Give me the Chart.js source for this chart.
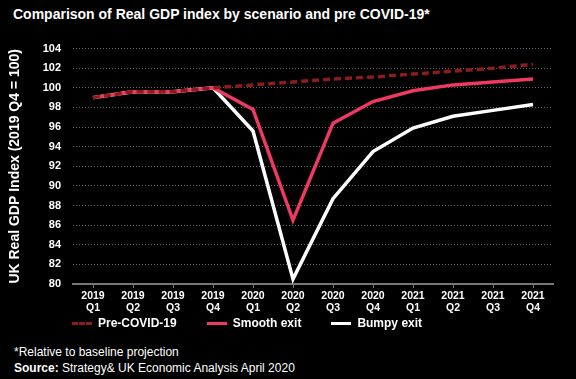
<!DOCTYPE html>
<html lang="en">
<head>
    <meta charset="UTF-8">
    <title>Comparison of Real GDP index by scenario and pre COVID-19</title>
    <script src="https://cdn.jsdelivr.net/npm/chart.js"></script>
    <style>
        body {
            margin: 0;
            background: #000;
            font-family: 'Liberation Sans', Arial, sans-serif;
            color: #fff;
        }
        .wrap {
            position: relative;
            width: 576px;
            height: 379px;
            overflow: hidden;
        }
        .title {
            position: absolute;
            left: 13px;
            top: 6px;
            font-size: 14px;
            font-weight: bold;
        }
        .chart-box {
            position: absolute;
            left: 0;
            top: 30px;
            width: 576px;
            height: 290px;
        }
        .legend {
            position: absolute;
            top: 316px;
            left: 72px;
            font-size: 12px;
            font-weight: bold;
            display: flex;
        }
        .legend .item {
            display: flex;
            align-items: center;
            margin-right: 30px;
        }
        .legend .mark {
            width: 20px;
            height: 0;
            margin-right: 6px;
        }
        .notes {
            position: absolute;
            left: 14px;
            top: 344px;
            font-size: 12px;
            line-height: 16px;
        }
    </style>
</head>
<body>
<div class="wrap">
    <div class="title">Comparison of Real GDP index by scenario and pre COVID-19*</div>
    <div class="chart-box"><canvas id="gdpChart"></canvas></div>
    <div class="legend" id="legend"></div>
    <div class="notes">
        <div>*Relative to baseline projection</div>
        <div><b>Source:</b> Strategy&amp; UK Economic Analysis April 2020</div>
    </div>
</div>
<script>
    const quarters = [
        ['2019', 'Q1'], ['2019', 'Q2'], ['2019', 'Q3'], ['2019', 'Q4'],
        ['2020', 'Q1'], ['2020', 'Q2'], ['2020', 'Q3'], ['2020', 'Q4'],
        ['2021', 'Q1'], ['2021', 'Q2'], ['2021', 'Q3'], ['2021', 'Q4']
    ];
    const preCovid = [99.0, 99.6, 99.6, 100.0, 100.3, 100.6, 100.9, 101.1, 101.4, 101.7, 102.0, 102.4];
    const smoothExit = [99.0, 99.6, 99.6, 100.0, 97.8, 86.5, 96.4, 98.6, 99.7, 100.3, 100.6, 100.9];
    const bumpyExit = [99.0, 99.6, 99.6, 100.0, 95.6, 80.5, 88.7, 93.5, 95.9, 97.1, 97.7, 98.3];
    const yTicks = { min: 80, max: 104, step: 2 };

    const series = [
        { label: 'Pre-COVID-19', data: preCovid, color: '#8e1c1c', dash: [7, 4] },
        { label: 'Smooth exit', data: smoothExit, color: '#ee3a62', dash: [] },
        { label: 'Bumpy exit', data: bumpyExit, color: '#ffffff', dash: [] }
    ];

    const ctx = document.getElementById('gdpChart').getContext('2d');
    new Chart(ctx, {
        type: 'line',
        data: {
            labels: quarters,
            datasets: series.map(s => ({
                label: s.label,
                data: s.data,
                borderColor: s.color,
                backgroundColor: s.color,
                borderDash: s.dash,
                borderWidth: 3.5,
                pointRadius: 0,
                tension: 0
            }))
        },
        options: {
            responsive: true,
            maintainAspectRatio: false,
            animation: false,
            layout: {
                padding: { top: 14, right: 23, bottom: 0, left: 0 }
            },
            plugins: {
                legend: { display: false },
                tooltip: { enabled: false }
            },
            scales: {
                x: {
                    offset: true,
                    afterFit: s => { s.height = 36; },
                    grid: {
                        offset: false,
                        drawOnChartArea: false,
                        drawTicks: true,
                        tickLength: 4,
                        color: '#777'
                    },
                    border: { display: true, color: '#777', width: 2 },
                    ticks: {
                        color: '#fff',
                        padding: 2,
                        maxRotation: 0,
                        autoSkip: false,
                        font: { family: 'Liberation Sans', size: 10.5, weight: 'bold', lineHeight: 1.15 }
                    }
                },
                y: {
                    min: yTicks.min,
                    max: yTicks.max,
                    afterFit: s => { s.width = 73; },
                    grid: {
                        drawTicks: false,
                        color: '#666',
                        lineWidth: 1
                    },
                    border: { display: false, dash: [1, 2] },
                    ticks: {
                        stepSize: yTicks.step,
                        color: '#fff',
                        padding: 12,
                        font: { family: 'Liberation Sans', size: 11, weight: 'bold' }
                    },
                    title: {
                        display: true,
                        text: 'UK Real GDP Index (2019 Q4 = 100)',
                        color: '#fff',
                        padding: { top: 7, bottom: 0 },
                        font: { family: 'Liberation Sans', size: 14, weight: 'bold' }
                    }
                }
            }
        }
    });

    // html legend, placed like the original
    const legend = document.getElementById('legend');
    series.forEach(s => {
        const item = document.createElement('div');
        item.className = 'item';
        const mark = document.createElement('span');
        mark.className = 'mark';
        mark.style.borderTop = '3px ' + (s.dash.length ? 'dashed ' : 'solid ') + s.color;
        const txt = document.createElement('span');
        txt.textContent = s.label;
        item.appendChild(mark);
        item.appendChild(txt);
        legend.appendChild(item);
    });
</script>
</body>
</html>
